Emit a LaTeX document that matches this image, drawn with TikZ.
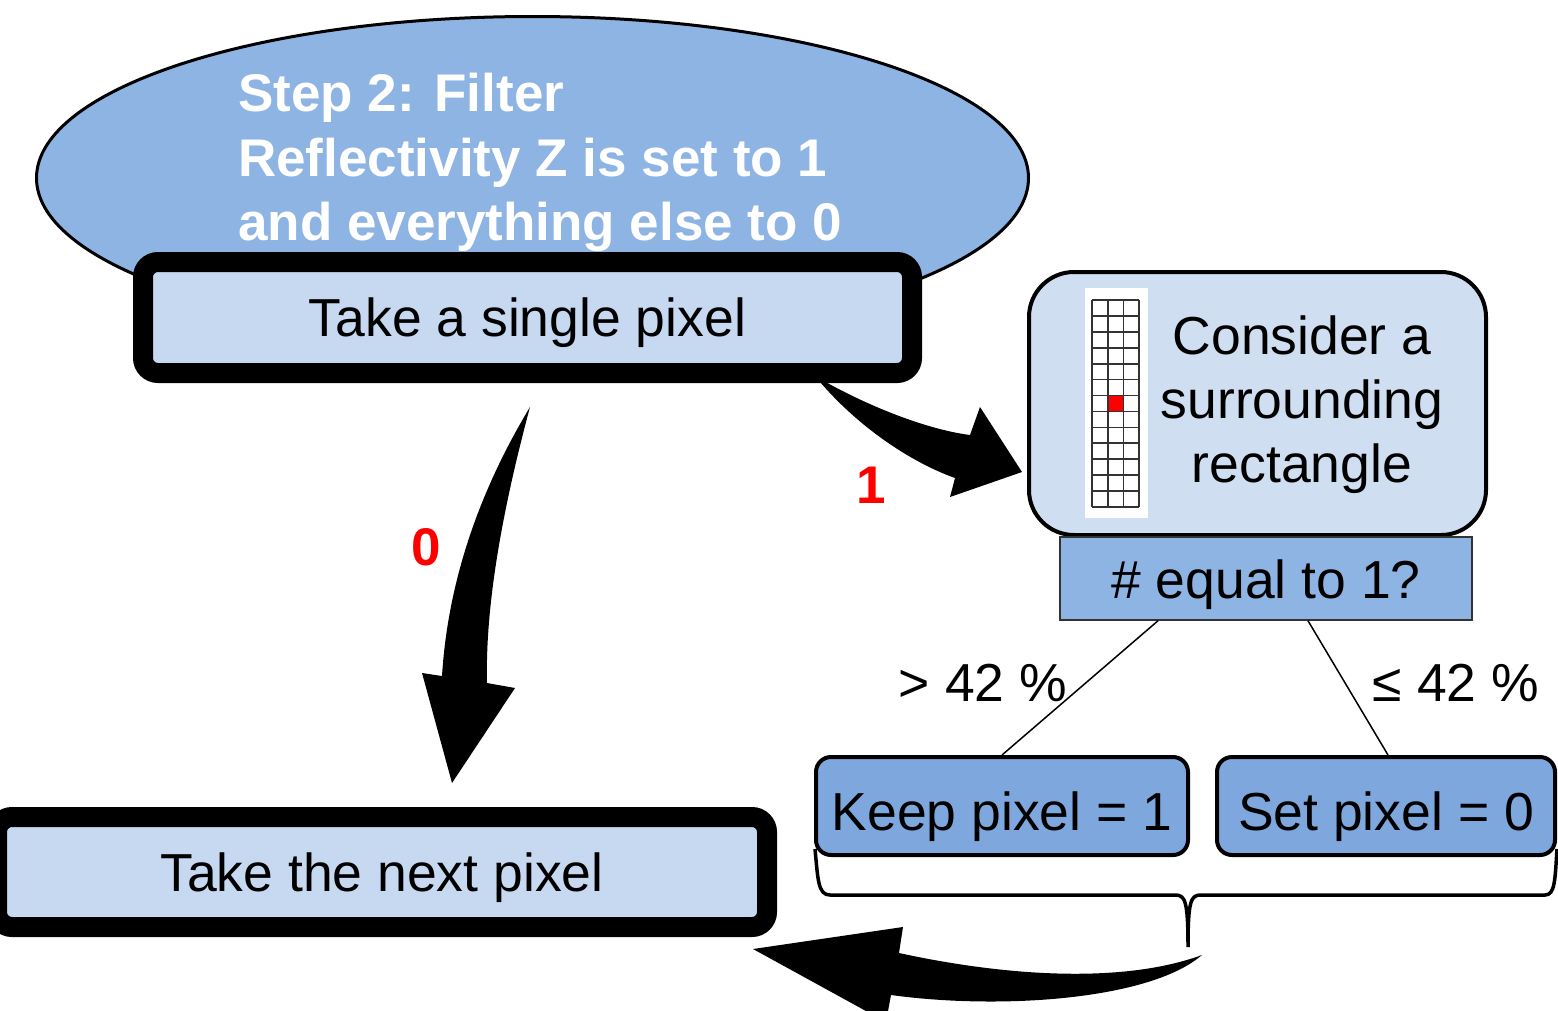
\documentclass[tikz,border=0pt]{standalone}
\usepackage{fontspec}
\setmainfont{Liberation Sans}
\usetikzlibrary{shapes.geometric}
\definecolor{ellblue}{HTML}{8EB4E3}
\definecolor{paleblue}{HTML}{C6D9F1}
\definecolor{rectblue}{HTML}{D0DEF1}
\definecolor{leafblue}{HTML}{7EA7DE}
\definecolor{gridgray}{HTML}{333333}
\begin{document}
\begin{tikzpicture}[x=1pt, y=-1pt, font=\fontsize{53.5}{64}\selectfont,
  thickbox/.style={draw=black, line width=20pt, rounded corners=15pt, fill=paleblue,
    text height=38pt, text depth=0pt},
  leafbox/.style={draw=black, line width=4pt, rounded corners=15pt, fill=leafblue,
    minimum width=372pt, minimum height=98pt, text height=48pt, text depth=0pt},
  blockarrow/.style={fill=black},
  branchlabel/.style={font=\fontsize{53}{64}\selectfont\bfseries, text=red}]
\useasboundingbox (0,0) rectangle (1558,1010);
% step 2 heading
\node[ellipse, draw=black, line width=3pt, fill=ellblue, minimum width=992pt,
  minimum height=323pt] (filter) at (532.5,178) {};
\node[anchor=north west, align=left, inner sep=0pt, text=white,
  font=\fontsize{53}{64.5}\selectfont\bfseries] (filtertext) at (238,73)
  {Step 2: Filter\\Reflectivity Z is set to 1\\and everything else to 0};
% block arrows (drawn before the boxes, which cover their tails)
\fill[blockarrow] (815,376) .. controls (870,408) and (930,430) .. (970,435)
  -- (980,407) -- (1022,472) -- (950,497) -- (955,478)
  .. controls (910,462) and (855,425) .. cycle;
\fill[blockarrow] (530,407) .. controls (505,500) and (485,600) .. (487,683)
  -- (515,688) -- (452,783) -- (422,673) -- (442,676)
  .. controls (448,580) and (480,490) .. cycle;
\fill[blockarrow] (1202,955) .. controls (1120,985) and (1000,975) .. (899,953)
  -- (903,927) -- (753,949) -- (886,1022) -- (891,995)
  .. controls (1000,1010) and (1150,1000) .. cycle;
\node[branchlabel] (zero) at (426,547) {0};
\node[branchlabel] (one) at (871,485) {1};
% pixel boxes
\node[thickbox, minimum width=769pt, minimum height=111pt] (single) at (527.5,317.5)
  {Take a single pixel};
\node[thickbox, minimum width=770pt, minimum height=110pt] (next) at (382,872)
  {Take the next pixel};
% surrounding rectangle
\node[draw=black, line width=4pt, rounded corners=45pt, fill=rectblue,
  minimum width=457pt, minimum height=263pt] (rect) at (1257.5,403.5) {};
\fill[white] (1085,288) rectangle (1148,518);
\fill[red] (1107.7,395.4) rectangle (1123.3,411.3);
\foreach \i in {0,...,3}
  \draw[gridgray, line width=1.7pt] (1092+15.67*\i,300) -- (1092+15.67*\i,507);
\foreach \j in {0,...,13}
  \draw[gridgray, line width=1.7pt] (1092,300+15.92*\j) -- (1139,300+15.92*\j);
\node[align=center] (recttext) at (1302,405) {Consider a\\surrounding\\rectangle};
% threshold test
\node[draw=gridgray, line width=1.5pt, fill=ellblue, minimum width=412pt,
  minimum height=83pt, text height=40pt, text depth=0pt] (equal) at (1266,578.5)
  {\# equal to 1?};
\node[leafbox] (keep) at (1002,806) {Keep pixel = 1};
\node[leafbox, minimum width=338pt] (set) at (1386,806) {Set pixel = 0};
\draw[line width=1.5pt] ([xshift=-108pt]equal.south) -- (keep.north);
\draw[line width=1.5pt] ([xshift=42pt]equal.south) -- ([xshift=2pt]set.north);
\node (more) at (983,683) {> 42 \%};
\node (less) at (1456,683) {≤ 42 \%};
% brace under both outcomes
\draw[line width=3.5pt] (815,849) .. controls (818,880) and (818,895) .. (830,895)
  -- (1175,895) .. controls (1185,895) and (1188,900) .. (1188,947)
  .. controls (1188,900) and (1191,895) .. (1201,895) -- (1545,895)
  .. controls (1555,895) and (1555,880) .. (1557,849);
\end{tikzpicture}
\end{document}
